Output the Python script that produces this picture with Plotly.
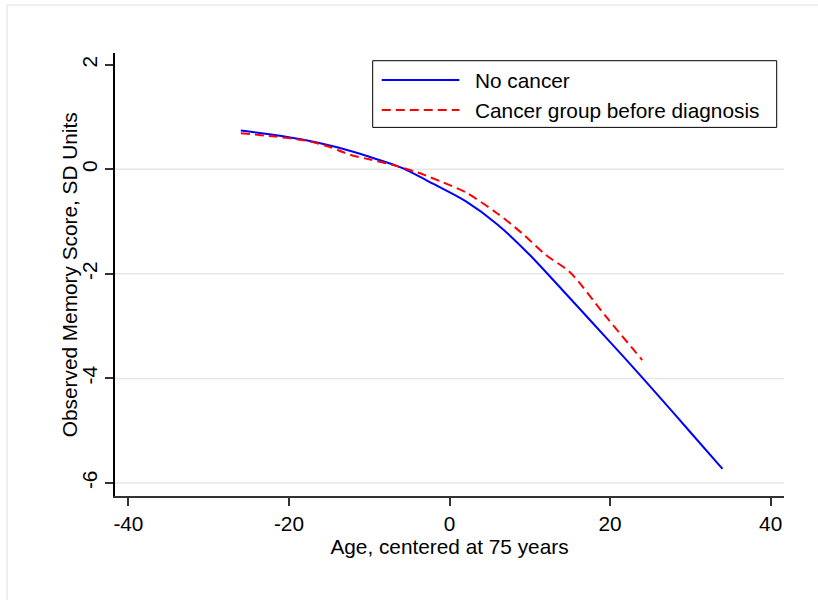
import plotly.graph_objects as go

# Data
age_no_cancer = [-26, -22, -18, -14, -10, -6, -2, 2, 6, 10, 14, 18, 22, 26, 30, 34]
mem_no_cancer = [0.74, 0.66, 0.56, 0.42, 0.24, 0.03, -0.28, -0.61, -1.06, -1.64,
                 -2.30, -2.97, -3.64, -4.33, -5.03, -5.73]

age_cancer = [-26, -22, -18, -15, -13.3, -12, -10, -7, -4, -1, 2, 6, 9, 12, 15, 19.5, 24]
mem_cancer = [0.69, 0.63, 0.55, 0.43, 0.33, 0.26, 0.19, 0.08, -0.06, -0.24, -0.44,
              -0.85, -1.22, -1.64, -1.97, -2.82, -3.65]

x_ticks = [-40, -20, 0, 20, 40]
y_ticks = [2, 0, -2, -4, -6]
grid_y = [0, -2, -4, -6]

series_names = ["No cancer", "Cancer group before diagnosis"]
x_title = "Age, centered at 75 years"
y_title = "Observed Memory Score, SD Units"

FONT = "Liberation Sans, Arial, sans-serif"
FS = 20.8
BLUE = "#0000ff"
RED = "#ff0000"
RED_DASH = "9px,5px"

fig = go.Figure()
fig.add_trace(go.Scatter(x=age_no_cancer, y=mem_no_cancer, mode="lines",
                         name=series_names[0],
                         line=dict(color=BLUE, width=2, shape="spline", smoothing=0.8),
                         showlegend=False))
fig.add_trace(go.Scatter(x=age_cancer, y=mem_cancer, mode="lines",
                         name=series_names[1],
                         line=dict(color=RED, width=2, dash=RED_DASH, shape="spline",
                                   smoothing=0.8),
                         showlegend=False))

shapes = []
for gy in grid_y:
    shapes.append(dict(type="line", xref="paper", yref="y", x0=0, x1=1, y0=gy, y1=gy,
                       line=dict(color="#e6e6e6", width=1.5), layer="below"))
# outer frame
shapes.append(dict(type="rect", xref="paper", yref="paper", x0=-0.1614, x1=1.3,
                   y0=-0.4, y1=1.1085, line=dict(color="#ebebeb", width=1.5),
                   layer="below"))
# legend box
shapes.append(dict(type="rect", xref="paper", yref="paper", x0=0.3852, x1=0.9891,
                   y0=0.8321, y1=0.9826, line=dict(color="black", width=1),
                   fillcolor="white"))
legend_rows = [0.939, 0.8712]
shapes.append(dict(type="line", xref="paper", yref="paper", x0=0.3987, x1=0.5147,
                   y0=legend_rows[0], y1=legend_rows[0], line=dict(color=BLUE, width=2)))
shapes.append(dict(type="line", xref="paper", yref="paper", x0=0.3987, x1=0.5147,
                   y0=legend_rows[1], y1=legend_rows[1],
                   line=dict(color=RED, width=2, dash=RED_DASH)))

annotations = []
for name, ry in zip(series_names, legend_rows):
    annotations.append(dict(xref="paper", yref="paper", x=0.5356, y=ry, text=name,
                            showarrow=False, xanchor="left", yanchor="middle",
                            font=dict(family=FONT, size=FS, color="black")))
# y-axis title
annotations.append(dict(xref="paper", yref="paper", x=-0.0678, y=0.5, text=y_title,
                        textangle=-90, showarrow=False, xanchor="center",
                        yanchor="middle", font=dict(family=FONT, size=FS, color="black")))

fig.update_layout(
    width=818, height=600,
    margin=dict(l=115, r=34, t=53, b=104, pad=0),
    paper_bgcolor="white", plot_bgcolor="white",
    font=dict(family=FONT, size=FS, color="black"),
    shapes=shapes, annotations=annotations,
    showlegend=False,
    xaxis=dict(range=[-41.67, 41.66], tickvals=x_ticks, ticktext=[str(v) for v in x_ticks],
               showgrid=False, zeroline=False, showline=True, linecolor="#333333",
               linewidth=1.5, ticks="outside", ticklen=8, tickcolor="#333333",
               tickwidth=1.5,
               title=dict(text=x_title, font=dict(size=FS), standoff=0)),
    yaxis=dict(range=[-6.25, 2.224], tickvals=y_ticks, ticktext=[str(v) for v in y_ticks],
               tickangle=-90, showgrid=False, zeroline=False, showline=True,
               linecolor="black", linewidth=1.5, ticks="outside", ticklen=8,
               tickcolor="#333333", tickwidth=1.5),
)

fig.write_html("out.html", config={"displayModeBar": False},
               post_script="document.body.style.margin='0';document.body.style.padding='0';")
